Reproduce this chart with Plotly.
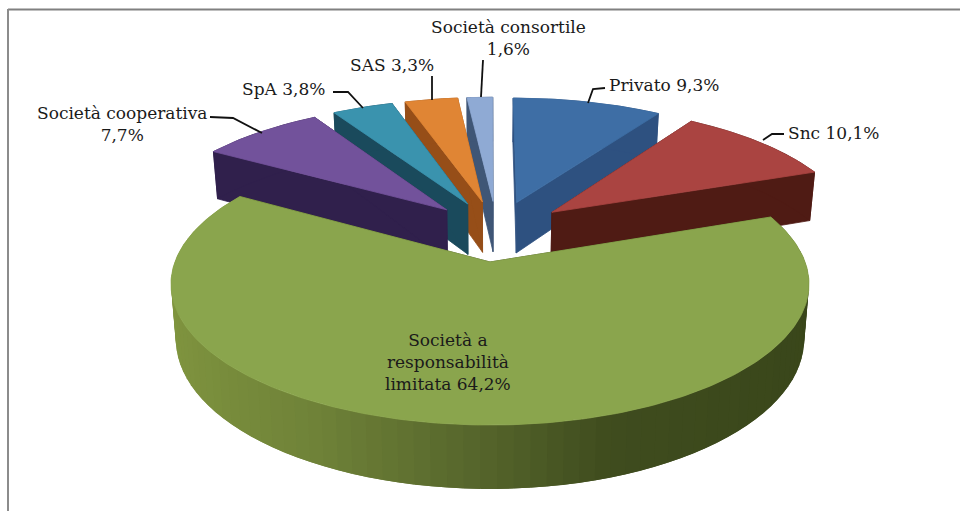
import math
import numpy as np
import plotly.graph_objects as go

# ---- data ----
categories = ["Privato", "Snc", "Società a responsabilità limitata",
              "Società cooperativa", "SpA", "SAS", "Società consortile"]
values = [9.3, 10.1, 64.2, 7.7, 3.8, 3.3, 1.6]
top_colors = ["#3e6ea5", "#aa4441", "#8aa54d", "#72529b", "#3a93ae", "#e08534", "#8faad4"]
wall_colors = ["#2e5180", "#4f1b14", "#3c481c", "#30204c", "#1a4a5c", "#964e18", "#3f5676"]
green_wall_stops = [(-1.0, "#80953f"), (-0.5, "#6f8238"), (-0.05, "#55652b"),
                    (0.3, "#3f4c1e"), (1.0, "#39461a")]

labels = [
    ("Privato 9,3%", 664, 85),
    ("Snc 10,1%", 834, 133),
    ("Società a<br>responsabilità<br>limitata 64,2%", 448, 362),
    ("Società cooperativa<br>7,7%", 122, 124),
    ("SpA 3,8%", 283, 89),
    ("SAS 3,3%", 392, 65),
    ("Società consortile<br>1,6%", 508, 38),
]
leaders = [
    [(588, 103), (593, 89), (605, 88)],
    [(763, 140), (772, 134), (784, 134)],
    [(262, 133), (233, 118), (210, 117)],
    [(363, 108), (348, 92), (333, 92)],
    [(432, 100), (432, 76)],
    [(481, 97), (483, 60)],
]

# ---- projection of the tilted pie ----
CX, CY = 490.0, 262.0     # screen position of the large slice's apex
AX, BY, K = 315.1, 137.6, 0.156
EXPLODE = 0.237
DEPTH = 54.0
BOTTOM_SCALE = 0.985


def project(X, Y, bottom=False):
    X, Y = np.asarray(X, float), np.asarray(Y, float)
    w = 1 + K * Y
    sx = AX * X / w
    sy = -BY * Y / w
    if bottom:
        return CX + sx * BOTTOM_SCALE, CY + sy + DEPTH / w
    return CX + sx, CY + sy


total = sum(values)
edges = np.cumsum([0] + values) / total * 2 * math.pi
mids = (edges[:-1] + edges[1:]) / 2
big = int(np.argmax(values))
# world origin of the pie, chosen so that the large slice's apex sits at CX, CY
ox = -EXPLODE * math.sin(mids[big])
oy = -EXPLODE * math.cos(mids[big])

fig = go.Figure()


def poly(xs, ys, color, name, lw=0.8):
    fig.add_trace(go.Scatter(
        x=list(xs) + [xs[0]], y=list(ys) + [ys[0]], mode="lines", fill="toself",
        fillcolor=color, line=dict(color=color, width=lw), hoverinfo="skip",
        name=name, showlegend=False))


def hex_mix(stops, t):
    for (a, ca), (b, cb) in zip(stops, stops[1:]):
        if t <= b:
            f = max(0.0, (t - a) / (b - a))
            c = [round(int(ca[i:i + 2], 16) * (1 - f) + int(cb[i:i + 2], 16) * f)
                 for i in (1, 3, 5)]
            return "rgb(%d,%d,%d)" % tuple(c)
    return stops[-1][1]


def draw_slice(i):
    a0, a1 = edges[i], edges[i + 1]
    px = ox + EXPLODE * math.sin(mids[i])
    py = oy + EXPLODE * math.cos(mids[i])
    th = np.linspace(a0, a1, max(8, int((a1 - a0) * 12)))
    ax_, ay_ = px + np.sin(th), py + np.cos(th)
    name = categories[i]
    # radial walls
    for a in (a0, a1):
        wx = [px, px + math.sin(a)]
        wy = [py, py + math.cos(a)]
        tx, ty = project(wx, wy)
        bx, by = project(wx, wy, bottom=True)
        poly([tx[0], tx[1], bx[1], bx[0]], [ty[0], ty[1], by[1], by[0]], wall_colors[i], name)
    # outer wall
    tx, ty = project(ax_, ay_)
    bx, by = project(ax_, ay_, bottom=True)
    if i == big:
        # overlapping strips painted in order, so that no seams show
        fine = np.linspace(a0, a1, 90)
        fx, fy = px + np.sin(fine), py + np.cos(fine)
        tx2, ty2 = project(fx, fy)
        bx2, by2 = project(fx, fy, bottom=True)
        for j in range(len(fine) - 1, 0, -1):
            k = max(j - 2, 0)
            s = math.sin(fine[j])
            idx = np.arange(k, j + 1)
            poly(list(tx2[idx]) + list(bx2[idx[::-1]]), list(ty2[idx]) + list(by2[idx[::-1]]),
                 hex_mix(green_wall_stops, s), name, lw=0)
    else:
        poly(list(tx) + list(bx[::-1]), list(ty) + list(by[::-1]), wall_colors[i], name)
    # top face
    th = np.linspace(a0, a1, max(8, int((a1 - a0) * 60)))
    tx, ty = project(px + np.sin(th), py + np.cos(th))
    cx_, cy_ = project(px, py)
    poly([float(cx_)] + list(tx), [float(cy_)] + list(ty), top_colors[i], name)


# painter's order, back to front
for i in [6, 5, 0, 4, 1, 3, 2]:
    draw_slice(i)

for pts in leaders:
    fig.add_trace(go.Scatter(x=[p[0] for p in pts], y=[p[1] for p in pts], mode="lines",
                             line=dict(color="#111111", width=1.8), hoverinfo="skip",
                             showlegend=False))

for text, x, y in labels:
    fig.add_annotation(x=x, y=y, text=text, showarrow=False, xanchor="center", yanchor="middle",
                       align="center", font=dict(family="DejaVu Serif", size=17, color="#1a1a1a"))

# picture frame
fig.add_shape(type="line", x0=8, x1=960, y0=9.5, y1=9.5, line=dict(color="#808080", width=2), layer="below")
fig.add_shape(type="line", x0=8, x1=8, y0=9, y1=511, line=dict(color="#8c8c8c", width=2), layer="below")

fig.update_layout(
    width=960, height=511, margin=dict(l=0, r=0, t=0, b=0),
    paper_bgcolor="white", plot_bgcolor="white", showlegend=False,
    xaxis=dict(range=[0, 960], visible=False, fixedrange=True),
    yaxis=dict(range=[511, 0], visible=False, fixedrange=True),
)
fig.write_html("out.html", config={"displayModeBar": False},
               post_script="document.body.style.margin='0';document.body.style.overflow='hidden';")
